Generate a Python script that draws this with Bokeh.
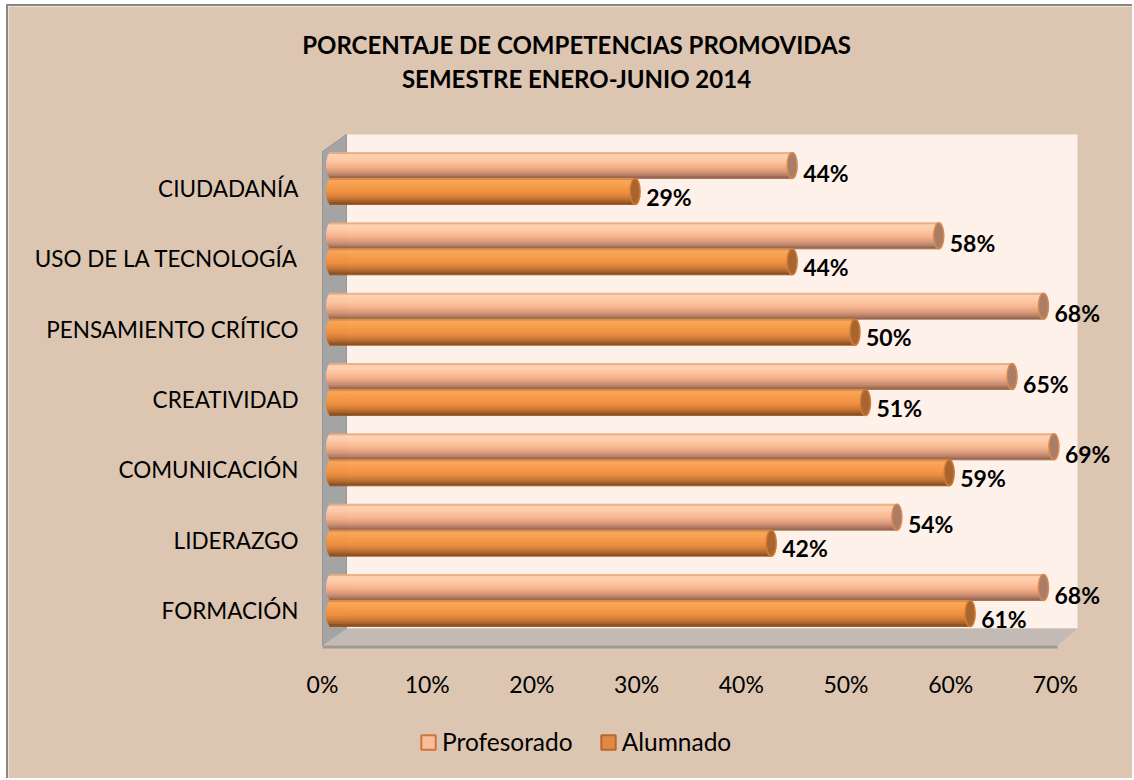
import numpy as np
from bokeh.plotting import figure
from bokeh.models import Range1d, Legend, LegendItem, ColumnDataSource
from bokeh.core.properties import value
from bokeh.embed import file_html
from bokeh.resources import INLINE

# ---------------- data ----------------
categories = ["FORMACIÓN", "LIDERAZGO", "COMUNICACIÓN", "CREATIVIDAD",
              "PENSAMIENTO CRÍTICO", "USO DE LA TECNOLOGÍA", "CIUDADANÍA"]
profesorado = [68, 54, 69, 65, 68, 58, 44]
alumnado = [61, 42, 59, 51, 50, 44, 29]
series_names = ["Profesorado", "Alumnado"]
x_ticks = [0, 10, 20, 30, 40, 50, 60, 70]
x_tick_labels = ["0%", "10%", "20%", "30%", "40%", "50%", "60%", "70%"]
title_lines = ["PORCENTAJE DE COMPETENCIAS PROMOVIDAS", "SEMESTRE ENERO-JUNIO 2014"]

# ---------------- layout (reference pixels) ----------------
W, H = 1134, 780
OX, OY = 8, 6            # figure origin inside the window (after border)
PX0, PXU = 322.0, 10.47  # pixel of 0 %, pixels per %
PY0, PYU = 610.0, 70.33  # pixel of first category, pixels per category
FL, FR, FT, FB = OX, W, OY, H  # the frame fills the whole figure


def xv(px):
    return (px - PX0) / PXU


def yv(py):
    return (PY0 - py) / PYU


FONT = "Lato"
TAN = "#DCC6B1"

p = figure(width=W - OX, height=H - OY, output_backend="svg", toolbar_location=None,
           x_range=Range1d(xv(FL), xv(FR)), y_range=Range1d(yv(FB), yv(FT)),
           x_axis_location=None, y_axis_location=None,
           min_border_left=0, min_border_right=0, min_border_top=0, min_border_bottom=0,
           title=None)
p.styles = {"margin-left": "6px", "margin-top": "4px",
            "border-left": "2px solid #878787", "border-top": "2px solid #878787"}
p.background_fill_color = TAN
p.border_fill_color = TAN
p.outline_line_color = None
p.grid.visible = False

# ---------------- 3D walls ----------------
p.patch(x=[xv(346), xv(1077), xv(1077), xv(346)], y=[yv(134), yv(134), yv(628), yv(628)],
        fill_color="#FEF1EA", line_color=None)
p.patch(x=[xv(322), xv(346), xv(346), xv(322)], y=[yv(151), yv(134), yv(628), yv(645)],
        fill_color="#A4A4A4", line_color="#969696", line_width=1)
p.patch(x=[xv(322), xv(346), xv(1077), xv(1057)], y=[yv(645), yv(628), yv(628), yv(645)],
        fill_color="#C3BAB6", line_color=None)
p.patch(x=[xv(322), xv(1057), xv(1057), xv(322)], y=[yv(645), yv(645), yv(648), yv(648)],
        fill_color="#9A9A9A", line_color=None)

# ---------------- cylinders ----------------
BAR_H = 26.0            # px
CAP_A = 5.0             # px, half width of the end ellipse
OFF_X = 9.0             # px, depth offset of bars
CENTER_DY = {"Profesorado": -23.0, "Alumnado": 3.0}   # px relative to category line
LABEL_DY = {"Profesorado": 7.0, "Alumnado": 5.0}      # px, value label below bar centre
N_STRIPS = 13

grad = {
    "Profesorado": [(0.0, "#D98A55"), (0.08, "#FFD3B4"), (0.3, "#FFC9A6"), (0.55, "#F6B28B"),
                    (0.75, "#D7997A"), (0.9, "#B27C62"), (1.0, "#8C5E47")],
    "Alumnado": [(0.0, "#C9752F"), (0.08, "#F9A85E"), (0.3, "#F79C4A"), (0.55, "#EF9040"),
                 (0.75, "#CE7A36"), (0.9, "#A65F27"), (1.0, "#82481B")],
}
cap_fill = {"Profesorado": "#A97D67", "Alumnado": "#A8652F"}
cap_line = {"Profesorado": "#D9894D", "Alumnado": "#D07A35"}
legend_fill = {"Profesorado": "#FBBC98", "Alumnado": "#DE8944"}
legend_line = {"Profesorado": "#C9773F", "Alumnado": "#B9682C"}


def interp_color(stops, t):
    ts = [s[0] for s in stops]
    rgb = np.array([[int(c[1:3], 16), int(c[3:5], 16), int(c[5:7], 16)] for _, c in stops], float)
    r = np.interp(t, ts, rgb[:, 0]); g = np.interp(t, ts, rgb[:, 1]); b = np.interp(t, ts, rgb[:, 2])
    return "#%02x%02x%02x" % (int(round(r)), int(round(g)), int(round(b)))


series_values = {"Profesorado": profesorado, "Alumnado": alumnado}
for name in series_names:
    vals = series_values[name]
    ys, lefts, rights, cols = [], [], [], []
    for i, v in enumerate(vals):
        cy_px = PY0 - i * PYU + CENTER_DY[name]
        for k in range(N_STRIPS):
            t = (k + 0.5) / N_STRIPS
            u = 1 - 2 * t
            ext = CAP_A * np.sqrt(max(0.0, 1 - u * u))
            sy_px = cy_px - BAR_H / 2 + t * BAR_H
            ys.append(yv(sy_px))
            lefts.append(OFF_X / PXU - ext / PXU)
            rights.append(v + OFF_X / PXU)
            cols.append(interp_color(grad[name], t))
    src = ColumnDataSource(dict(y=ys, left=lefts, right=rights, color=cols))
    p.hbar(y="y", left="left", right="right", height=BAR_H / N_STRIPS / PYU,
           fill_color="color", line_color="color", line_width=0.8, source=src)
    caps = ColumnDataSource(dict(
        x=[v + OFF_X / PXU for v in vals],
        y=[yv(PY0 - i * PYU + CENTER_DY[name]) for i in range(len(vals))]))
    p.ellipse(x="x", y="y", width=2 * CAP_A / PXU, height=BAR_H / PYU, source=caps,
              fill_color=cap_fill[name], line_color=cap_line[name], line_width=1.5)
    labs = ColumnDataSource(dict(
        x=[v + (OFF_X + CAP_A + 6) / PXU for v in vals],
        y=[yv(PY0 - i * PYU + CENTER_DY[name] + LABEL_DY[name]) for i in range(len(vals))],
        t=[f"{v}%" for v in vals]))
    p.text(x="x", y="y", text="t", source=labs, text_font=value(FONT), text_font_style="bold",
           text_font_size="23px", text_color="#000000", text_align="left", text_baseline="middle")

# ---------------- category axis labels ----------------
csrc = ColumnDataSource(dict(x=[xv(298)] * len(categories), y=list(range(len(categories))),
                             t=categories))
p.text(x="x", y="y", text="t", source=csrc, text_font=value(FONT), text_font_size="22.5px",
       text_color="#000000", text_align="right", text_baseline="middle")

# ---------------- value axis labels ----------------
xsrc = ColumnDataSource(dict(x=x_ticks, y=[yv(683)] * len(x_ticks), t=x_tick_labels))
p.text(x="x", y="y", text="t", source=xsrc, text_font=value(FONT), text_font_size="23px",
       text_color="#000000", text_align="center", text_baseline="middle")

# ---------------- title ----------------
tsrc = ColumnDataSource(dict(x=[xv(576)] * len(title_lines),
                             y=[yv(44 + j * 34) for j in range(len(title_lines))],
                             t=title_lines))
p.text(x="x", y="y", text="t", source=tsrc, text_font=value(FONT), text_font_style="bold",
       text_font_size="24px", text_color="#000000", text_align="center", text_baseline="middle")

# ---------------- legend ----------------
items = []
for name in series_names:
    r = p.quad(left=[np.nan], right=[np.nan], top=[np.nan], bottom=[np.nan],
               fill_color=legend_fill[name], line_color=legend_line[name], line_width=2)
    items.append(LegendItem(label=name, renderers=[r]))
legend = Legend(items=items, orientation="horizontal", location=(419 - OX, H - 756),
                glyph_width=18, glyph_height=18, label_standoff=5, spacing=26,
                padding=0, margin=0, border_line_color=None, background_fill_alpha=0,
                label_text_font=FONT, label_text_font_size="24.5px", label_text_color="#000000")
p.add_layout(legend)

open("out.html", "w").write(file_html(p, INLINE))
